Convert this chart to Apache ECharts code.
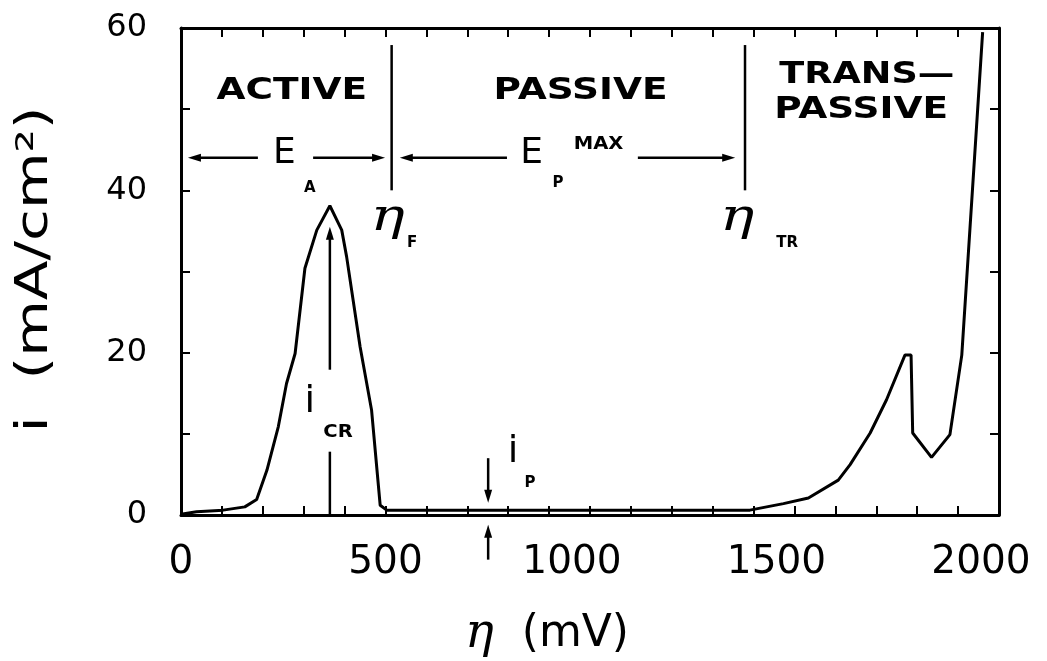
<!DOCTYPE html>
<html>
<head>
<meta charset="utf-8">
<title>Anodic polarization curve</title>
<script src="https://cdn.jsdelivr.net/npm/echarts@6/dist/echarts.min.js"></script>
<style>
  html, body { margin: 0; padding: 0; background: #fff; }
  #chart { width: 1047px; height: 661px; }
</style>
</head>
<body>
<div id="chart"></div>
<script>
// Overpotential (mV) and current density (mA/cm²) along the polarization curve
const eta = [0, 38, 103, 156, 185, 210, 238, 258, 279, 303, 332, 364, 393, 405, 438, 466, 487, 503,
             600, 750, 1000, 1250, 1391, 1473, 1534, 1607, 1636, 1685, 1725, 1770, 1785, 1789,
             1835, 1880, 1909, 1960];
const current = [0.1, 0.4, 0.6, 1.0, 1.9, 5.5, 10.9, 16.2, 19.9, 30.4, 35.1, 38.1, 35.1, 31.8, 20.7, 12.9, 1.2, 0.6,
                 0.6, 0.6, 0.6, 0.6, 0.6, 1.4, 2.1, 4.3, 6.2, 10.1, 14.2, 19.7, 19.7, 10.1,
                 7.1, 9.9, 19.7, 59.5];

// Axis ticks and the labels shown on them
const xLabelTicks = [0, 500, 1000, 1500, 2000];
const yLabelTicks = [0, 20, 40, 60];

// Region names, axis titles and key potentials
const regionNames = ['ACTIVE', 'PASSIVE', 'TRANS—', 'PASSIVE'];
const yTitle = 'i  (mA/cm²)';
const etaFlade = 515;         // η_F
const etaTranspassive = 1379; // η_TR
const iCritical = 38.1;       // i_CR (peak)
const etaPassiveMark = 751;   // where i_P is marked

const FONT = "'DejaVu Sans', sans-serif";
const SERIF = "'DejaVu Serif', serif";

const chart = echarts.init(document.getElementById('chart'), null, { renderer: 'canvas' });

const mkLine = () => ({ show: true, onZero: false, lineStyle: { color: '#000', width: 3 } });
const mkTick = () => ({ show: true, inside: true, length: 9, lineStyle: { color: '#000', width: 2 } });

const option = {
  animation: false,
  backgroundColor: '#fff',
  grid: { left: 181, right: 48, top: 28, bottom: 146, containLabel: false, outerBoundsMode: 'none' },
  xAxis: [
    {
      type: 'value', min: 0, max: 2000, interval: 100, position: 'bottom',
      axisLine: mkLine(), axisTick: mkTick(), splitLine: { show: false },
      axisLabel: {
        color: '#000', fontFamily: FONT, fontSize: 39, margin: 28,
        // four-digit labels sit a little left of their ticks
        formatter: v => !xLabelTicks.includes(v) ? '' : (v >= 1000 ? `{w|${v}}` : String(v)),
        rich: { w: { fontFamily: FONT, fontSize: 39, color: '#000', padding: [0, 36, 0, 0] } }
      },
      name: '{e|η}  (mV)', nameLocation: 'middle', nameGap: 96,
      nameTextStyle: {
        color: '#000', fontFamily: FONT, fontSize: 44, padding: [0, 86, 0, 0],
        rich: { e: { fontFamily: SERIF, fontStyle: 'italic', fontSize: 48, color: '#000' } }
      }
    },
    {
      type: 'value', min: 0, max: 2000, interval: 100, position: 'top',
      axisLine: mkLine(), axisTick: mkTick(), axisLabel: { show: false }, splitLine: { show: false }
    }
  ],
  yAxis: [
    {
      type: 'value', min: 0, max: 60, interval: 10, position: 'left',
      axisLine: mkLine(), axisTick: mkTick(), splitLine: { show: false },
      axisLabel: {
        color: '#000', fontFamily: FONT, fontSize: 32, margin: 34,
        formatter: v => yLabelTicks.includes(v) ? String(v) : ''
      }
    },
    {
      type: 'value', min: 0, max: 60, interval: 10, position: 'right',
      axisLine: mkLine(), axisTick: mkTick(), axisLabel: { show: false }, splitLine: { show: false }
    }
  ],
  series: [
    {
      type: 'line',
      data: eta.map((x, k) => [x, current[k]]),
      symbol: 'none',
      lineStyle: { color: '#000', width: 3 },
      xAxisIndex: 0, yAxisIndex: 0
    }
  ]
};

chart.setOption(option);

// Annotations are placed in data units and converted through the axes
const toPx = p => chart.convertToPixel({ xAxisIndex: 0, yAxisIndex: 0 }, p);

const plainLines = [
  [[etaFlade, 57.9], [etaFlade, 40.0]],
  [[etaTranspassive, 57.9], [etaTranspassive, 40.0]],
  [[364, 7.8], [364, 0]]
];

// arrows: tail -> head
const arrows = [
  [[188, 44], [17, 44]],
  [[323, 44], [etaFlade - 16, 44]],
  [[797, 44], [etaFlade + 20, 44]],
  [[1117, 44], [etaTranspassive - 24, 44]],
  [[364, 17.9], [364, iCritical - 2.6]],
  [[etaPassiveMark, 7.0], [etaPassiveMark, 1.5]],
  [[etaPassiveMark, -5.5], [etaPassiveMark, -1.2]]
];

const texts = [
  { t: regionNames[0], at: [271, 52.2], size: 30, weight: 'bold', sx: 1.25 },
  { t: regionNames[1], at: [977, 52.2], size: 30, weight: 'bold', sx: 1.25 },
  { t: regionNames[2], at: [1677, 54.2], size: 30, weight: 'bold', sx: 1.22 },
  { t: regionNames[3], at: [1663, 49.9], size: 30, weight: 'bold', sx: 1.25 },
  { t: 'E', at: [253, 44.5], size: 36 },
  { t: 'A', at: [315, 40.3], size: 15, weight: 'bold' },
  { t: 'E', at: [857, 44.5], size: 36 },
  { t: 'P', at: [922, 40.9], size: 15, weight: 'bold' },
  { t: 'MAX', at: [1021, 45.6], size: 17, weight: 'bold', sx: 1.15 },
  { t: 'η', at: [505, 36.5], size: 44, family: SERIF, style: 'italic', sx: 1.3 },
  { t: 'F', at: [565, 33.5], size: 15, weight: 'bold' },
  { t: 'η', at: [1360, 36.5], size: 44, family: SERIF, style: 'italic', sx: 1.3 },
  { t: 'TR', at: [1482, 33.5], size: 15, weight: 'bold' },
  { t: 'i', at: [315, 13.9], size: 38 },
  { t: 'CR', at: [384, 10.2], size: 17, weight: 'bold', sx: 1.15 },
  { t: 'i', at: [812, 7.8], size: 38 },
  { t: 'P', at: [853, 3.9], size: 15, weight: 'bold' }
];

function arrowHead(tail, head) {
  const dx = head[0] - tail[0], dy = head[1] - tail[1];
  const len = Math.hypot(dx, dy) || 1;
  const ux = dx / len, uy = dy / len;
  const L = 13, W = 4;
  const bx = head[0] - ux * L, by = head[1] - uy * L;
  return [head, [bx - uy * W, by + ux * W], [bx + uy * W, by - ux * W]];
}

const graphics = [];
plainLines.forEach(([a, b]) => {
  const p = toPx(a), q = toPx(b);
  graphics.push({ type: 'line', shape: { x1: p[0], y1: p[1], x2: q[0], y2: q[1] },
                  style: { stroke: '#000', lineWidth: 2.5 }, z: 10 });
});
arrows.forEach(([a, b]) => {
  const p = toPx(a), q = toPx(b);
  const len = Math.hypot(q[0] - p[0], q[1] - p[1]) || 1;
  const back = [q[0] - (q[0] - p[0]) / len * 6, q[1] - (q[1] - p[1]) / len * 6];
  graphics.push({ type: 'line', shape: { x1: p[0], y1: p[1], x2: back[0], y2: back[1] },
                  style: { stroke: '#000', lineWidth: 2.5 }, z: 10 });
  graphics.push({ type: 'polygon', shape: { points: arrowHead(p, q) }, style: { fill: '#000' }, z: 10 });
});
texts.forEach(d => {
  const p = toPx(d.at);
  graphics.push({
    type: 'text', x: p[0], y: p[1], scaleX: d.sx || 1, z: 10,
    style: {
      text: d.t, fill: '#000', align: 'center', verticalAlign: 'middle',
      font: `${d.style || 'normal'} ${d.weight || 'normal'} ${d.size}px ${d.family || FONT}`
    }
  });
});

// Vertical axis title, set beside the left axis and centred on the plot height
const mid = toPx([0, 30]);
graphics.push({
  type: 'text', x: mid[0] - 145, y: mid[1] - 2, rotation: Math.PI / 2, scaleX: 1.32, z: 10,
  style: { text: yTitle, fill: '#000', align: 'center', verticalAlign: 'middle', font: `normal 44px ${FONT}` }
});

chart.setOption({ graphic: graphics });
</script>
</body>
</html>
